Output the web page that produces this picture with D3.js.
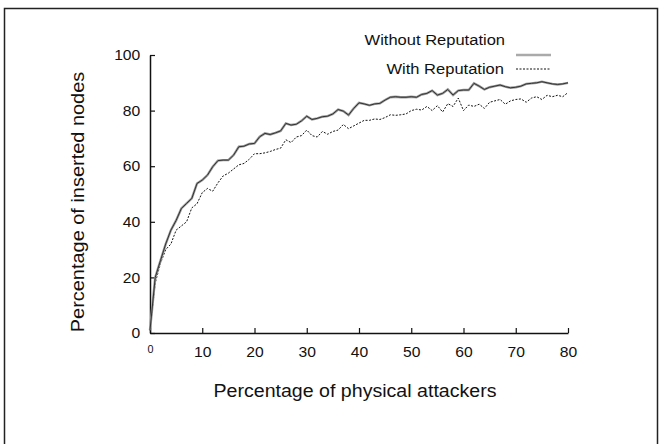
<!DOCTYPE html>
<html>
<head>
<meta charset="utf-8">
<script src="https://cdn.jsdelivr.net/npm/d3@7"></script>
<style>
  body { margin: 0; background: #fff; }
  svg { display: block; font-family: "Liberation Sans", Arial, sans-serif; }
</style>
</head>
<body>
<svg width="665" height="444"></svg>
<script>
// percentage of physical attackers (x) -> percentage of inserted nodes
const attackers = d3.range(0, 81);
const withoutReputation = [
  1, 20, 26, 32, 37, 40.5, 44.8, 46.6, 48.4, 53.8,
  55, 56.8, 59.8, 62, 62.2, 62.2, 64, 67, 67.2, 68,
  68.2, 70.6, 71.8, 71.4, 72, 72.7, 75.4, 74.8, 75.1, 76.3,
  78, 76.8, 77.2, 77.8, 78, 78.8, 80.4, 79.8, 78.4, 80.8,
  82.8, 82.4, 81.9, 82.4, 82.6, 83.8, 84.8, 85, 84.8, 84.8,
  85, 84.8, 85.8, 86.2, 87.2, 85.6, 86.2, 87.6, 85.6, 87.2,
  87.4, 87.4, 89.8, 88.8, 87.6, 88.4, 88.8, 89.2, 88.6, 88.2,
  88.4, 88.8, 89.6, 89.8, 90, 90.4, 90, 89.6, 89.4, 89.6,
  90
];
const withReputation = [
  1, 18, 25, 30, 32, 37, 38.5, 40, 45, 46.5,
  50.5, 52, 51, 54, 56.5, 57.5, 59, 60.5, 61, 62.5,
  64.5, 64.5, 64.8, 65.3, 66, 66.5, 69.5, 68.5, 70.5, 71,
  73, 71, 70.5, 72.5, 71.5, 72.5, 73, 75, 73.5, 74.5,
  75.5, 76.5, 76.5, 77, 76.8, 77.5, 78.5, 78.3, 78.5, 78.8,
  80, 80.5, 80.2, 81.5, 80, 81.8, 79.5, 82.5, 81.5, 84.5,
  80, 82, 81.5, 82.3, 80.8, 83, 83.5, 84, 82.3, 83.5,
  84, 84.2, 83, 84.5, 85, 84, 85.5, 85, 85.5, 85,
  86.5
];
const xTicks = [0, 10, 20, 30, 40, 50, 60, 70, 80];
const yTicks = [0, 20, 40, 60, 80, 100];

const svg = d3.select("svg");

// outer frame (open at the bottom)
svg.append("path")
   .attr("d", "M4.5,450 V8.5 H657.5 V450")
   .attr("fill", "none")
   .attr("stroke", "#222")
   .attr("stroke-width", 1.5);

const x = d3.scaleLinear().domain([0, 80]).range([150, 568]);
const y = d3.scaleLinear().domain([0, 100]).range([333, 55]);

// the original figure's lettering is a bit stretched sideways
function label(px, py, str, size, anchor, sx, rotate) {
  let t = `translate(${px},${py})` + (rotate ? " rotate(-90)" : "") + ` scale(${sx},1)`;
  svg.append("text").attr("transform", t).attr("text-anchor", anchor)
     .attr("font-size", size).attr("fill", "#111").text(str);
}

// axes with inward ticks
const xAxis = svg.append("g")
   .attr("transform", `translate(0,${y(0)})`)
   .call(d3.axisBottom(x).tickValues(xTicks).tickSizeInner(-5).tickSizeOuter(0).tickPadding(10));
const yAxis = svg.append("g")
   .attr("transform", `translate(${x(0)},0)`)
   .call(d3.axisLeft(y).tickValues(yTicks).tickSizeInner(-5).tickSizeOuter(0).tickPadding(9));

[xAxis, yAxis].forEach(g => {
  g.select(".domain").attr("stroke", "#111").attr("stroke-width", 1.5);
  g.selectAll(".tick line").attr("stroke", "#111").attr("stroke-width", 1.2);
  g.selectAll("text").attr("fill", "#111").attr("font-size", 14.5)
   .attr("font-family", "Liberation Sans, Arial, sans-serif")
   .attr("transform", "scale(1.08,1)");
});
xAxis.selectAll(".tick text").attr("dy", "1.0em");
xAxis.selectAll(".tick text").filter(d => d === 0).attr("font-size", 10);

const line = d3.line().x((d, i) => x(attackers[i])).y(d => y(d));

svg.append("path")
   .datum(withReputation)
   .attr("d", line)
   .attr("fill", "none")
   .attr("stroke", "#111")
   .attr("stroke-width", 1)
   .attr("stroke-dasharray", "2,1.5");

svg.append("path")
   .datum(withoutReputation)
   .attr("d", line)
   .attr("fill", "none")
   .attr("stroke", "#999")
   .attr("stroke-width", 2.4);
svg.append("path")
   .datum(withoutReputation)
   .attr("d", line)
   .attr("fill", "none")
   .attr("stroke", "#333")
   .attr("stroke-width", 1);

// legend
label(505, 45, "Without Reputation", 14.5, "end", 1.14);
svg.append("line").attr("x1", 516).attr("x2", 551).attr("y1", 55).attr("y2", 55)
   .attr("stroke", "#aaa").attr("stroke-width", 2.5);
label(504, 74, "With Reputation", 14.5, "end", 1.14);
svg.append("line").attr("x1", 516).attr("x2", 551).attr("y1", 69).attr("y2", 69)
   .attr("stroke", "#111").attr("stroke-width", 1).attr("stroke-dasharray", "2,1.5");

// axis titles
label(355, 397, "Percentage of physical attackers", 17.5, "middle", 1.12);
label(84, 202, "Percentage of inserted nodes", 17.5, "middle", 1.14, true);
</script>
</body>
</html>
